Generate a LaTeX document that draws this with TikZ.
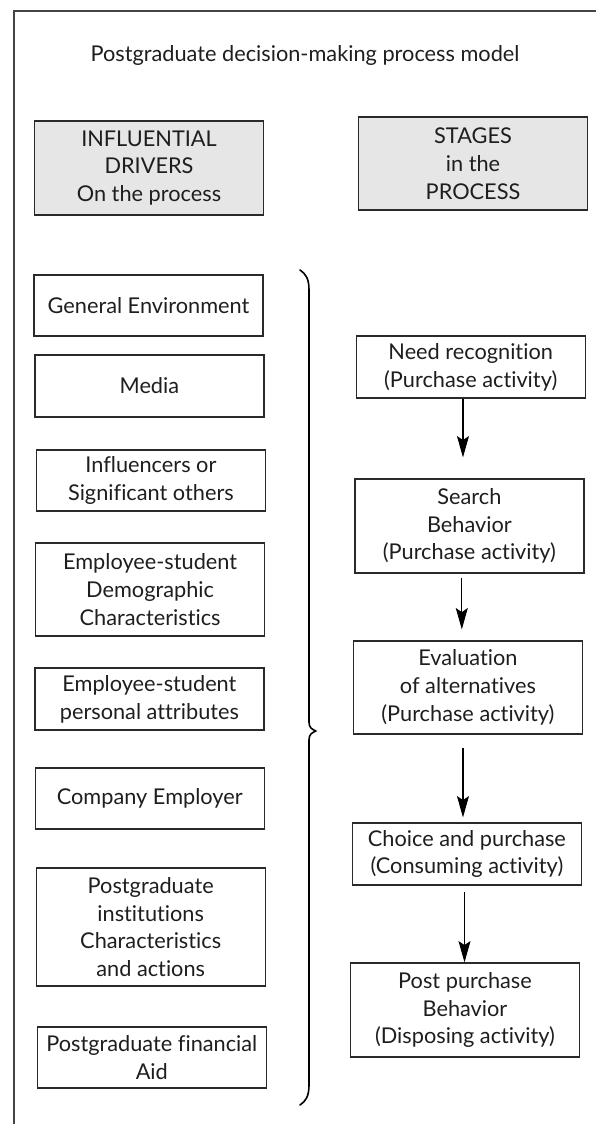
\documentclass[tikz,border=0pt]{standalone}
\usepackage{fontspec}
\setmainfont{Lato}[Ligatures=NoCommon]
\usetikzlibrary{arrows.meta}
\definecolor{framec}{HTML}{444444}
\definecolor{boxline}{HTML}{2A2A2A}
\definecolor{hdrfill}{HTML}{E6E6E6}
\definecolor{txt}{HTML}{1E1E1E}
\begin{document}
\begin{tikzpicture}[x=0.75pt,y=-0.75pt,
  every node/.style={font=\fontsize{16.3}{20.8}\selectfont, text=txt},
  box/.style={draw=boxline, line width=0.9pt, align=center, inner sep=0pt,
    minimum width=171.75pt},
  hdr/.style={box, fill=hdrfill},
  arr/.style={draw=black, line width=0.8pt, -{Stealth[length=16pt,width=9pt,inset=3pt]}},
  bracestyle/.style={draw=black, line width=1.2pt, line cap=round}
]
\useasboundingbox (0,0) rectangle (596,1124);
\draw[framec, line width=0.8pt] (14,1124) -- (14,11) -- (596,11);

\node (title) at (305,55) {Postgraduate decision-making process model};

\node[hdr, minimum height=70.5pt] (hl) at (149,168) {INFLUENTIAL\\DRIVERS\\On the process};
\node[hdr, minimum height=69.75pt] (hr) at (473,163.5) {STAGES\\in the\\PROCESS};

\node[box, minimum height=45.75pt] (l1) at (148.5,305.5) {General Environment};
\node[box, minimum height=46.5pt] (l2) at (149.4,386) {Media};
\node[box, minimum height=45.75pt] (l3) at (150.9,480.5) {Influencers or\\Significant others};
\node[box, minimum height=69.75pt] (l4) at (150.1,589.5) {Employee-student\\Demographic\\Characteristics};
\node[box, minimum height=46.5pt] (l5) at (149.4,699) {Employee-student\\personal attributes};
\node[box, minimum height=45.75pt] (l6) at (149.75,798.5) {Company Employer};
\node[box, minimum height=88.5pt] (l7) at (150.7,927) {Postgraduate\\institutions\\Characteristics\\and actions};
\node[box, minimum height=45.75pt] (l8) at (151.8,1057.5) {Postgraduate financial\\Aid};

\node[box, minimum height=46.5pt] (r1) at (470.7,367) {Need recognition\\(Purchase activity)};
\node[box, minimum height=70.5pt] (r2) at (469.4,526) {Search\\Behavior\\(Purchase activity)};
\node[box, minimum height=69.75pt] (r3) at (467.9,687.5) {Evaluation\\of alternatives\\(Purchase activity)};
\node[box, minimum height=46.5pt] (r4) at (466.9,854) {Choice and purchase\\(Consuming activity)};
\node[box, minimum height=70.5pt] (r5) at (465,1010) {Post purchase\\Behavior\\(Disposing activity)};

\draw[arr, shorten >=15.75pt] ([xshift=-5.8pt]r1.south) -- ([xshift=-5.8pt]r1.south |- r2.north);
\draw[arr, shorten <=3pt, shorten >=8.25pt] ([xshift=-5.7pt]r2.south) -- ([xshift=-5.7pt]r2.south |- r3.north);
\draw[arr, shorten <=9.75pt, shorten >=3.75pt] ([xshift=-3.7pt]r3.south) -- ([xshift=-3.7pt]r3.south |- r4.north);
\draw[arr, shorten <=4.5pt] ([xshift=-1.8pt]r4.south) -- ([xshift=-1.8pt]r4.south |- r5.north);

\draw[bracestyle] (300,270) .. controls (306,274) and (309,279) .. (309,290)
  -- (309,722) .. controls (309,728) and (312,729) .. (315.7,731)
  .. controls (312,733) and (309,734) .. (309,740)
  -- (309,1085) .. controls (309,1096) and (306,1101) .. (300,1105);
\end{tikzpicture}
\end{document}
